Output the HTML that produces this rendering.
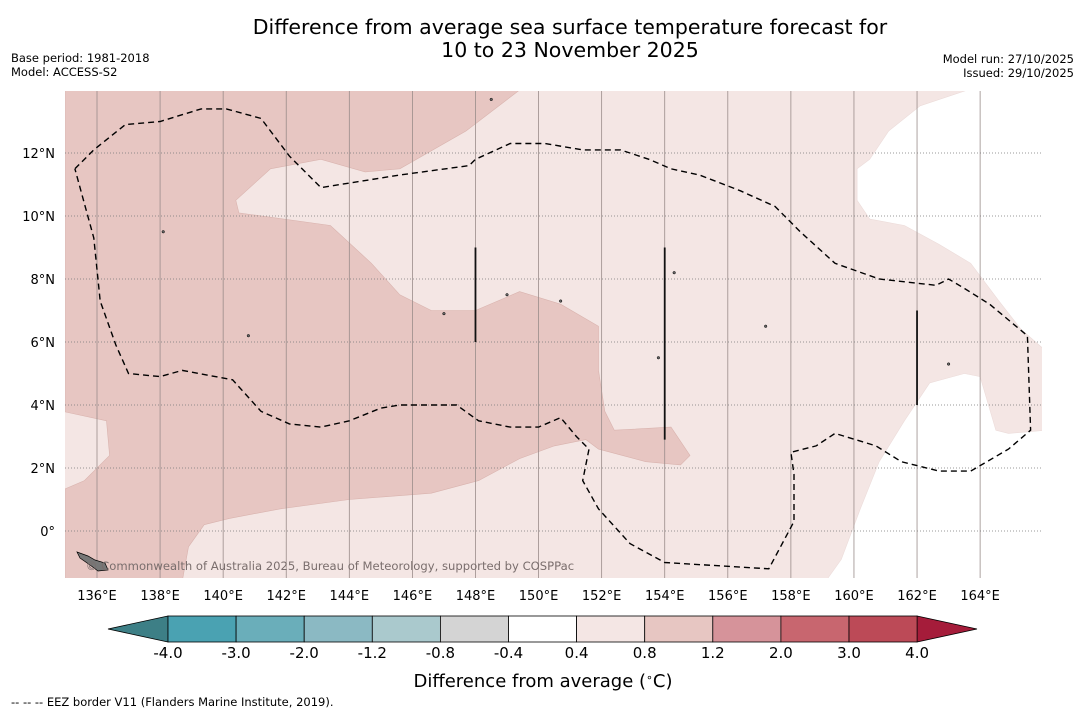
<!DOCTYPE html>
<html><head><meta charset="utf-8"><style>
body{margin:0;background:#fff;width:1085px;height:713px;overflow:hidden;font-family:"DejaVu Sans","Liberation Sans",sans-serif}
</style></head><body>
<svg id="chart" width="1085" height="713" xmlns="http://www.w3.org/2000/svg" font-family="DejaVu Sans, Liberation Sans, sans-serif">
<text x="570" y="34" font-size="20.5" text-anchor="middle">Difference from average sea surface temperature forecast for</text>
<text x="570" y="57" font-size="20.5" text-anchor="middle">10 to 23 November 2025</text>
<text x="11" y="62" font-size="11.5">Base period: 1981-2018</text>
<text x="11" y="76" font-size="11.5">Model: ACCESS-S2</text>
<text x="1074" y="63" font-size="11.5" text-anchor="end">Model run: 27/10/2025</text>
<text x="1074" y="77" font-size="11.5" text-anchor="end">Issued: 29/10/2025</text>
<defs><clipPath id="mapclip"><rect x="65" y="91" width="977" height="487"/></clipPath></defs>
<g id="map" clip-path="url(#mapclip)"></g>
<g id="axes"></g>
<g id="cbar"></g>
<text x="543" y="687" font-size="18" text-anchor="middle">Difference from average (<tspan baseline-shift="super" font-size="11">∘</tspan>C)</text>
<text x="11" y="706" font-size="11.5">--  --  -- EEZ border V11 (Flanders Marine Institute, 2019).</text>
</svg>
<script>
const lonTicks=[136,138,140,142,144,146,148,150,152,154,156,158,160,162,164];
const latTicks=[0,2,4,6,8,10,12];
const cbLevels=[-4.0,-3.0,-2.0,-1.2,-0.8,-0.4,0.4,0.8,1.2,2.0,3.0,4.0];
const cbColors=["#4aa2b2","#6aaeba","#8bb9c3","#aac9cd","#d4d4d4","#ffffff","#f4e6e4","#e7c6c2","#d6939a","#c8666f","#bc4a57"];
const darkRegion=[[135,14],[149.4,14],[147.7,12.7],[145.6,11.5],[144.5,11.4],[143.1,11.8],[141.5,11.5],[140.4,10.5],[140.5,10.1],[143.4,9.7],[144.7,8.5],[145.6,7.5],[146.6,7.0],[148.0,7.0],[149.4,7.6],[150.7,7.2],[151.9,6.5],[151.9,5.1],[152.1,3.8],[152.4,3.2],[154.2,3.3],[154.8,2.4],[154.5,2.1],[153.4,2.2],[151.9,2.6],[151.5,2.9],[150.5,2.7],[149.4,2.3],[148.1,1.6],[146.6,1.2],[144.0,1.0],[141.8,0.7],[140.2,0.4],[139.4,0.2],[138.9,-0.5],[138.7,-1.6],[135,-1.6]];
const lightLeft=[[134.9,3.8],[136.3,3.5],[136.4,2.4],[135.6,1.6],[134.9,1.3]];
const whiteTop=[[163.9,14.1],[162.1,13.5],[161.1,12.7],[160.5,11.8],[160.1,11.5],[160.1,10.5],[160.5,9.9],[161.6,9.7],[162.7,9.1],[163.7,8.5],[164.6,7.3],[165.3,6.4],[166.1,5.7],[166.1,14.1]];
const whiteBottom=[[166.1,3.2],[164.9,3.1],[164.5,3.2],[164.0,4.9],[163.5,5.0],[162.4,4.7],[161.6,3.5],[160.8,2.2],[160.2,0.7],[159.6,-0.9],[159.1,-1.6],[166.1,-1.6]];
const eezLon=[135.3,135.9,136.9,138.0,139.3,140.1,141.2,142.1,143.1,145.6,147.8,148.0,149.1,150.2,151.4,152.6,153.5,154.2,155.1,156.4,157.5,158.3,159.4,160.8,162.6,163.0,163.5,164.3,165.5,165.6,164.9,163.7,162.7,161.5,160.7,159.4,158.8,158.0,158.1,158.1,157.3,154.0,152.9,151.9,151.4,151.6,151.2,150.7,150.0,149.1,148.1,147.4,145.6,145.0,144.0,143.1,142.1,141.2,140.3,138.7,138.0,137.0,136.6,136.1,135.9,135.3];
const eezLat=[11.5,12.1,12.9,13.0,13.4,13.4,13.1,11.9,10.9,11.3,11.6,11.8,12.3,12.3,12.1,12.1,11.8,11.5,11.3,10.8,10.3,9.5,8.5,8.0,7.8,8.0,7.7,7.2,6.2,3.2,2.6,1.9,1.9,2.2,2.7,3.1,2.7,2.5,1.8,0.3,-1.2,-1.0,-0.4,0.7,1.6,2.6,3.0,3.6,3.3,3.3,3.5,4.0,4.0,3.9,3.5,3.3,3.4,3.8,4.8,5.1,4.9,5.0,5.9,7.3,9.3,11.5];
const barLons=[148,154,162];
const barTop=[9.0,9.0,7.0];
const barBottom=[6.0,2.9,4.0];
const islands=[[140.8,6.2],[148.5,13.7],[138.1,9.5],[157.2,6.5],[154.3,8.2],[150.7,7.3],[153.8,5.5],[163.0,5.3],[149.0,7.5],[147.0,6.9]];

const X=lon=>97+(lon-136)*31.54;
const Y=lat=>531-lat*31.5;
const NS="http://www.w3.org/2000/svg";
function mk(tag,attrs,parent){const e=document.createElementNS(NS,tag);for(const k in attrs)e.setAttribute(k,attrs[k]);parent.appendChild(e);return e;}
const map=document.getElementById('map'),axes=document.getElementById('axes'),cbar=document.getElementById('cbar');
const pts=a=>a.map(p=>X(p[0]).toFixed(1)+','+Y(p[1]).toFixed(1)).join(' ');

let bg=mk('rect',{x:65,y:91,width:977,height:487,fill:'#f4e6e4'},map);


let d1=mk('polygon',{points:pts(darkRegion),fill:'#e7c6c2',stroke:'#d9b3ae','stroke-width':0.6},map);


let l1=mk('polygon',{points:pts(lightLeft),fill:'#f4e6e4',stroke:'#d9b3ae','stroke-width':0.6},map);


let w1=mk('polygon',{points:pts(whiteTop),fill:'#ffffff',stroke:'#ecdcda','stroke-width':0.6},map);


let w2=mk('polygon',{points:pts(whiteBottom),fill:'#ffffff',stroke:'#ecdcda','stroke-width':0.6},map);



lonTicks.forEach(l=>{
  let g=mk('line',{x1:X(l),x2:X(l),y1:91,y2:578,stroke:'#9a8c8a','stroke-width':0.8},map);
  
  
  let t=mk('text',{x:X(l),y:600,'font-size':13,'text-anchor':'middle'},axes);
  t.textContent=l+'°E';
  
  
});
latTicks.forEach(l=>{
  let g=mk('line',{x1:65,x2:1042,y1:Y(l),y2:Y(l),stroke:'#777','stroke-width':0.8,'stroke-dasharray':'1,2'},map);
  
  
  let t=mk('text',{x:55,y:Y(l)+5,'font-size':13,'text-anchor':'end'},axes);
  t.textContent=l===0?'0°':l+'°N';
  
  
});
let eez=mk('polyline',{points:eezLon.map((v,i)=>X(v).toFixed(1)+','+Y(eezLat[i]).toFixed(1)).join(' '),fill:'none',stroke:'#000','stroke-width':1.4,'stroke-dasharray':'6,4'},map);


barLons.forEach((l,i)=>{
  let b=mk('line',{x1:X(l),x2:X(l),y1:Y(barTop[i]),y2:Y(barBottom[i]),stroke:'#111','stroke-width':1.8},map);
  
  
});
islands.forEach(p=>{
  let c=mk('circle',{cx:X(p[0]),cy:Y(p[1]),r:1.3,fill:'#666',stroke:'#000','stroke-width':0.5},map);
  
  
});
let png=mk('polygon',{points:'77,552 88,556 95,560 105,563 108,570 98,571 90,565 80,558',fill:'#777',stroke:'#000','stroke-width':0.7},map);


let cr=mk('text',{x:330,y:570,'font-size':11.6,'text-anchor':'middle',fill:'#7a6e6d'},map);
cr.textContent='© Commonwealth of Australia 2025, Bureau of Meteorology, supported by COSPPac';



const cbX=v=>{const i=cbLevels.indexOf(v);return 168+i*68.1;};
const cy0=616,cy1=642;
let el=mk('polygon',{points:`108,629 168,${cy0} 168,${cy1}`,fill:'#3d7f86',stroke:'#000','stroke-width':0.8},cbar);


let er=mk('polygon',{points:`977,629 917,${cy0} 917,${cy1}`,fill:'#a51c3a',stroke:'#000','stroke-width':0.8},cbar);


cbColors.forEach((c,i)=>{
  const x0=cbX(cbLevels[i]),x1=cbX(cbLevels[i+1]);
  let r=mk('rect',{x:x0,y:cy0,width:x1-x0,height:cy1-cy0,fill:c,stroke:'#000','stroke-width':0.8},cbar);
  
  
});
cbLevels.forEach(v=>{
  let t=mk('text',{x:cbX(v),y:658,'font-size':15,'text-anchor':'middle'},cbar);
  t.textContent=v.toFixed(1);
  
  
});
</script>
</body></html>
